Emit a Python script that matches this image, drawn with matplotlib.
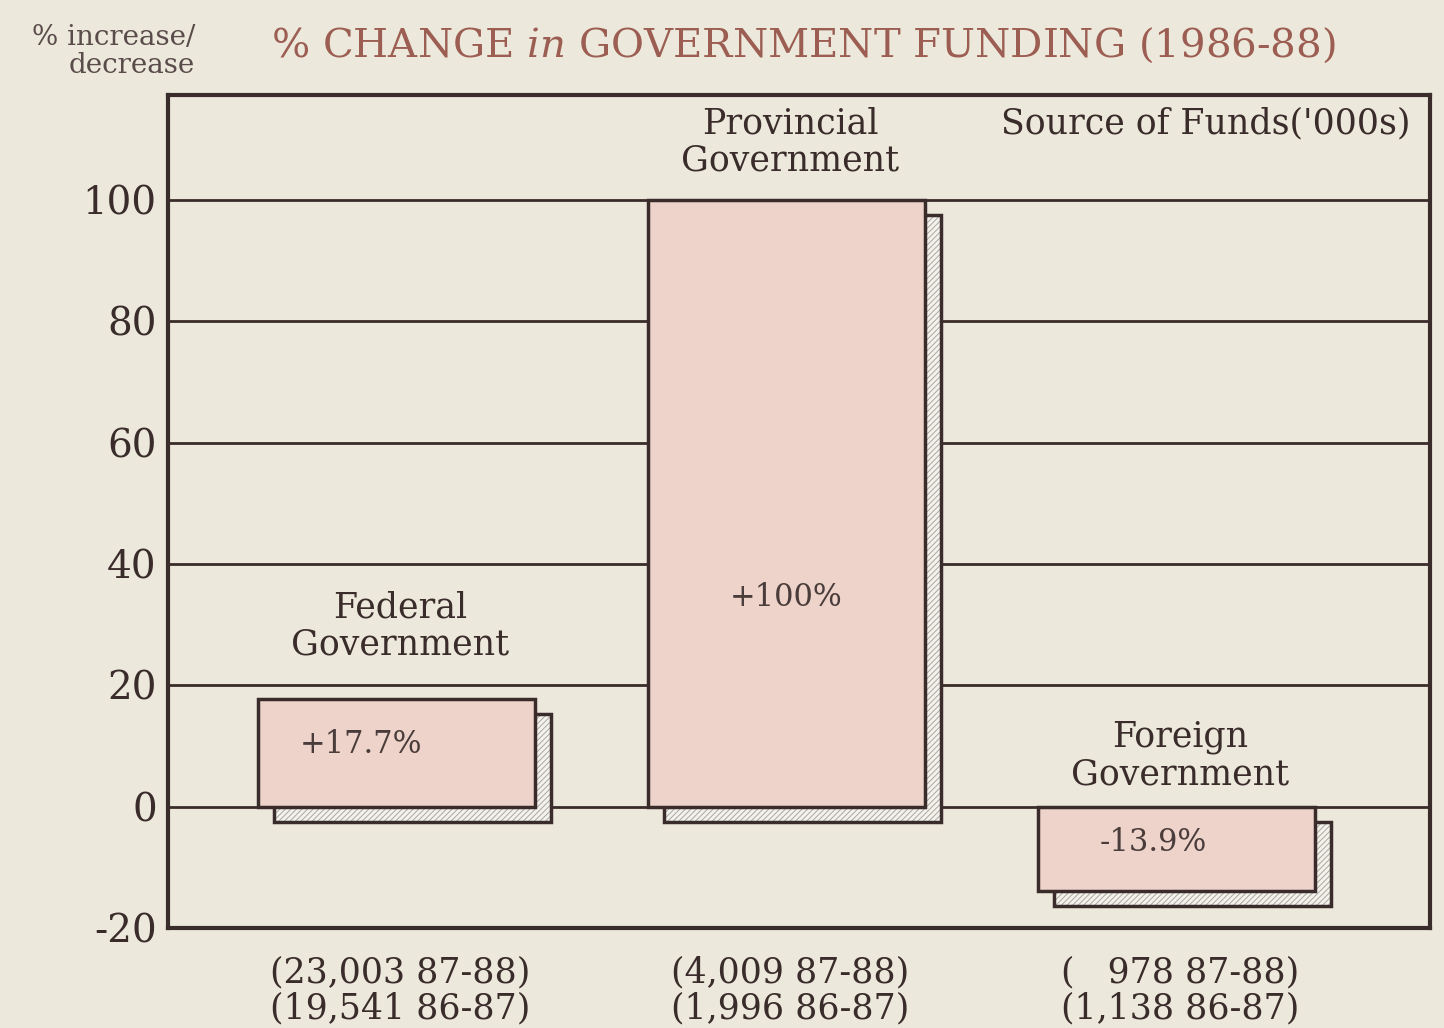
import numpy as np
import matplotlib.pyplot as plt

categories = ["Federal\nGovernment", "Provincial\nGovernment", "Foreign\nGovernment"]
changes = [17.7, 100.0, -13.9]
change_labels = ["+17.7%", "+100%", "-13.9%"]
funds_87_88 = ["23,003", "4,009", "   978"]
funds_86_87 = ["19,541", "1,996", "1,138"]
yticks = [-20, 0, 20, 40, 60, 80, 100]

bg = "#ece9dc"
ink = "#3a2c2a"
bar_fill = "#edd3c9"
title_col = "#9c5e52"
serif = "DejaVu Serif"

plt.rcParams["hatch.linewidth"] = 0.7
plt.rcParams["mathtext.fontset"] = "custom"
plt.rcParams["mathtext.it"] = "DejaVu Serif:italic"
plt.rcParams["mathtext.rm"] = "DejaVu Serif"

fig = plt.figure(figsize=(14.44, 10.28), dpi=100, facecolor=bg)
ax = fig.add_axes([0.1163, 0.0973, 0.874, 0.8103], facecolor=bg)

x = np.arange(len(categories))
width = 0.71
dx, dy = 0.04, 2.5

# gridlines behind everything
for t in yticks[1:]:
    ax.axhline(t, color=ink, lw=2, zorder=1)

# drop shadows: hatch layer then outline
ax.bar(x + dx, changes, width, bottom=-dy, color="#f4f2ea", edgecolor="#a8a8a2",
       hatch="//////", lw=0, zorder=2)
ax.bar(x + dx, changes, width, bottom=-dy, fill=False, edgecolor=ink, lw=2.5, zorder=2)
# main bars
ax.bar(x, changes, width, color=bar_fill, edgecolor=ink, lw=2.5, zorder=3)

# value labels inside bars
val_pos = [(-0.09, 10.2), (0.0, 34.4), (-0.06, -5.9)]
for (ox, vy), lab, xi in zip(val_pos, change_labels, x):
    ax.text(xi + ox, vy, lab, ha="center", va="center", fontsize=22,
            family=serif, color="#4a3c3a", zorder=4)

# category labels
cat_y = [29.8, 109.6, 8.4]
for xi, cy, lab in zip(x, cat_y, categories):
    ax.text(xi + 0.01, cy, lab, ha="center", va="center", fontsize=25,
            family=serif, color=ink, linespacing=1.1, zorder=4)

ax.text(2.6, 112.6, "Source of Funds('000s)", ha="right", va="center",
        fontsize=25, family=serif, color=ink)

ax.set_xlim(-0.586, 2.65)
ax.set_ylim(-20, 117.3)
ax.set_yticks(yticks)
ax.set_yticklabels([str(t) for t in yticks], fontsize=28, family=serif, color=ink)
ax.tick_params(axis="y", length=0, pad=8)

ax.set_xticks(x + 0.01)
ax.set_xticklabels([f"({a} 87-88)\n({b} 86-87)" for a, b in zip(funds_87_88, funds_86_87)],
                   fontsize=25, family=serif, color=ink, linespacing=1.05)
ax.tick_params(axis="x", length=0, pad=20)

for s in ax.spines.values():
    s.set_color(ink)
    s.set_linewidth(3)

fig.text(0.135, 0.950, "% increase/\ndecrease", ha="right", va="center",
         fontsize=20, family=serif, color="#5a4c4a", linespacing=1.05)
fig.text(0.188, 0.956, r"% CHANGE $\it{in}$ GOVERNMENT FUNDING (1986-88)", ha="left",
         va="center", fontsize=29, family=serif, color=title_col)

fig.savefig("out.png", dpi=100, facecolor=bg)
